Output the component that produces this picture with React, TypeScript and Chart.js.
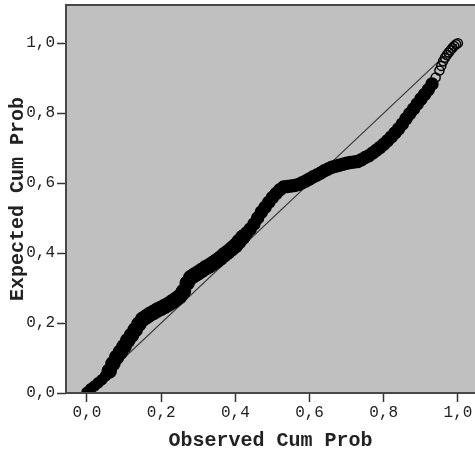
import React, { useEffect, useRef } from "react";
import { Chart, registerables } from "chart.js";

Chart.register(...registerables);

// Observed cumulative probability (x) and expected cumulative probability (y)
const observedCumProb = [
  0.00, 0.01, 0.02, 0.03, 0.04, 0.05, 0.06, 0.07, 0.08, 0.09,
  0.10, 0.11, 0.12, 0.13, 0.14, 0.15, 0.16, 0.17, 0.18, 0.19,
  0.20, 0.21, 0.22, 0.23, 0.24, 0.25, 0.26, 0.27, 0.28, 0.29,
  0.30, 0.31, 0.32, 0.33, 0.34, 0.35, 0.36, 0.37, 0.38, 0.39,
  0.40, 0.41, 0.42, 0.43, 0.44, 0.45, 0.46, 0.47, 0.48, 0.49,
  0.50, 0.51, 0.52, 0.53, 0.54, 0.55, 0.56, 0.57, 0.58, 0.59,
  0.60, 0.61, 0.62, 0.63, 0.64, 0.65, 0.66, 0.67, 0.68, 0.69,
  0.70, 0.71, 0.72, 0.73, 0.74, 0.75, 0.76, 0.77, 0.78, 0.79,
  0.80, 0.81, 0.82, 0.83, 0.84, 0.85, 0.86, 0.87, 0.88, 0.89,
  0.90, 0.91, 0.92, 0.93, 0.94, 0.95, 0.955, 0.96, 0.965, 0.97,
  0.975, 0.98, 0.985, 0.99, 0.995, 1.00,
];
const expectedCumProb = [
  0.002, 0.012, 0.020, 0.029, 0.038, 0.049, 0.063, 0.084, 0.102, 0.117,
  0.133, 0.150, 0.165, 0.181, 0.197, 0.211, 0.218, 0.225, 0.231, 0.237,
  0.242, 0.248, 0.254, 0.261, 0.268, 0.276, 0.290, 0.314, 0.330, 0.337,
  0.344, 0.351, 0.358, 0.364, 0.371, 0.378, 0.386, 0.395, 0.403, 0.412,
  0.421, 0.433, 0.445, 0.457, 0.469, 0.483, 0.500, 0.517, 0.531, 0.545,
  0.559, 0.570, 0.581, 0.589, 0.590, 0.592, 0.593, 0.596, 0.601, 0.606,
  0.612, 0.618, 0.623, 0.629, 0.635, 0.640, 0.645, 0.648, 0.651, 0.654,
  0.657, 0.659, 0.660, 0.662, 0.667, 0.673, 0.678, 0.686, 0.694, 0.702,
  0.711, 0.721, 0.732, 0.743, 0.755, 0.769, 0.784, 0.798, 0.812, 0.826,
  0.840, 0.853, 0.867, 0.883, 0.902, 0.922, 0.935, 0.948, 0.958, 0.966,
  0.973, 0.980, 0.986, 0.992, 0.997, 1.000,
];

// Reference diagonal
const diagonalX = [0, 1];
const diagonalY = [0, 1];

const xTickValues = [0, 0.2, 0.4, 0.6, 0.8, 1.0];
const yTickValues = [0, 0.2, 0.4, 0.6, 0.8, 1.0];
const xAxisTitle = "Observed Cum Prob";
const yAxisTitle = "Expected Cum Prob";

const X_MIN = -0.0566;
const X_MAX = 1.046;
const Y_MIN = 0;
const Y_MAX = 1.109;

const fmt = (v: number) => v.toFixed(1).replace(".", ",");

const plotBackground = {
  id: "plotBackground",
  beforeDatasetsDraw(chart: any) {
    const { ctx, chartArea } = chart;
    const { left, top, right, bottom } = chartArea;
    ctx.save();
    ctx.fillStyle = "#c0c0c0";
    ctx.fillRect(left, top, right - left, bottom - top);
    ctx.restore();
  },
  afterDatasetsDraw(chart: any) {
    const { ctx, chartArea } = chart;
    const { left, top, right, bottom } = chartArea;
    ctx.save();
    ctx.strokeStyle = "#474747";
    ctx.lineWidth = 2;
    ctx.beginPath();
    ctx.moveTo(right + 2, top);
    ctx.lineTo(left, top);
    ctx.lineTo(left, bottom);
    ctx.lineTo(right + 2, bottom);
    ctx.stroke();
    ctx.restore();
  },
};

const pointSize = (c: any) => {
  const y = c.raw ? c.raw.y : 0;
  if (y < 0.06) return 5;
  if (y < 0.45) return 7;
  if (y < 0.9) return 6;
  return 4.5;
};

export default function App() {
  const canvasRef = useRef<HTMLCanvasElement | null>(null);

  useEffect(() => {
    if (!canvasRef.current) return;
    const points = observedCumProb.map((x, i) => ({ x, y: expectedCumProb[i] }));
    const diag = diagonalX.map((x, i) => ({ x, y: diagonalY[i] }));
    const tickFont = { family: "'Liberation Mono', 'Courier New', monospace", size: 16 };
    const titleFont = { family: "'Liberation Mono', 'Courier New', monospace", size: 20, weight: "bold" as const };

    const chart = new Chart(canvasRef.current, {
      type: "scatter",
      data: {
        datasets: [
          {
            type: "scatter",
            data: points,
            order: 0,
            pointStyle: "circle",
            pointRadius: pointSize,
            pointBorderWidth: 1.5,
            pointBorderColor: "#000",
            pointBackgroundColor: (c: any) =>
              c.raw && c.raw.y > 0.9 ? "rgba(0,0,0,0)" : "#000",
          },
          {
            type: "line",
            data: diag,
            order: 1,
            borderColor: "#3a3a3a",
            borderWidth: 1.2,
            pointRadius: 0,
            fill: false,
          },
        ],
      },
      options: {
        animation: false,
        responsive: true,
        maintainAspectRatio: false,
        events: [],
        layout: { autoPadding: false, padding: { top: 5, right: 0, left: 0, bottom: 0 } },
        plugins: {
          legend: { display: false },
          tooltip: { enabled: false },
        },
        scales: {
          x: {
            type: "linear",
            min: X_MIN,
            max: X_MAX,
            afterBuildTicks: (axis: any) => {
              axis.ticks = xTickValues.map((v) => ({ value: v }));
            },
            afterFit: (axis: any) => {
              axis.height = 60;
              axis.paddingLeft = 0;
              axis.paddingRight = 0;
            },
            border: { display: false },
            grid: {
              display: true,
              drawOnChartArea: false,
              drawTicks: true,
              tickLength: 9,
              tickWidth: 1.5,
              tickColor: "#333",
            },
            ticks: {
              callback: (v: any) => fmt(Number(v)),
              font: tickFont,
              color: "#222",
              padding: 1,
              maxRotation: 0,
              autoSkip: false,
            },
            title: {
              display: true,
              text: xAxisTitle,
              font: titleFont,
              color: "#222",
              padding: { top: 0, bottom: 0 },
            },
          },
          y: {
            type: "linear",
            min: Y_MIN,
            max: Y_MAX,
            afterBuildTicks: (axis: any) => {
              axis.ticks = yTickValues.map((v) => ({ value: v }));
            },
            afterFit: (axis: any) => {
              axis.width = 66;
              axis.paddingTop = 0;
              axis.paddingBottom = 0;
            },
            border: { display: false },
            grid: {
              display: true,
              drawOnChartArea: false,
              drawTicks: true,
              tickLength: 9,
              tickWidth: 1.5,
              tickColor: "#333",
            },
            ticks: {
              callback: (v: any) => fmt(Number(v)),
              font: tickFont,
              color: "#222",
              padding: 2,
              autoSkip: false,
            },
            title: {
              display: true,
              text: yAxisTitle,
              font: titleFont,
              color: "#222",
              padding: { top: 6, bottom: 0 },
            },
          },
        },
      },
      plugins: [plotBackground],
    });
    return () => chart.destroy();
  }, []);

  return (
    <div style={{ position: "fixed", left: 0, top: 0, width: 475, height: 453, background: "#fff" }}>
      <canvas ref={canvasRef} />
    </div>
  );
}
